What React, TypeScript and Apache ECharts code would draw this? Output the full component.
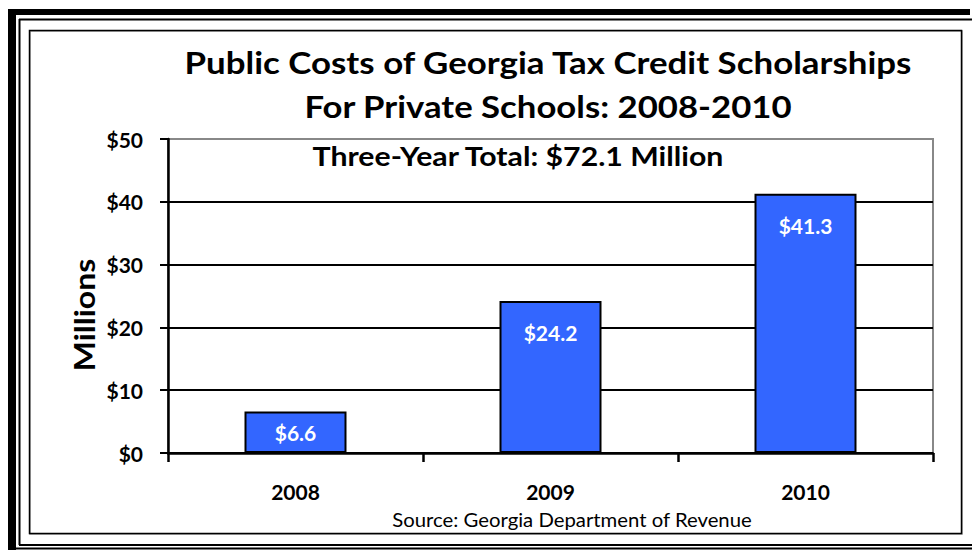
import React, { useEffect, useRef } from "react";
import * as echarts from "echarts";

const categories = ["2008", "2009", "2010"];
const values = [6.6, 24.2, 41.3];
const yTicks = [0, 10, 20, 30, 40, 50];
const titleLines = ["Public Costs of Georgia Tax Credit Scholarships", "For Private Schools: 2008-2010"];
const subtitle = "Three-Year Total: $72.1 Million";
const yAxisName = "Millions";
const sourceText = "Source: Georgia Department of Revenue";

const FONT = "Lato, 'Noto Sans', sans-serif";

export default function App() {
  const ref = useRef<HTMLDivElement>(null);
  useEffect(() => {
    if (!ref.current) return;
    const chart = echarts.init(ref.current, null, { renderer: "svg" });
    chart.setOption({
      animation: false,
      backgroundColor: "#fff",
      textStyle: { fontFamily: FONT },
      grid: {
        left: 168,
        top: 139,
        right: 39,
        bottom: 97,
        show: true,
        borderColor: "#888",
        borderWidth: 2,
        containLabel: false,
      },
      xAxis: {
        type: "category",
        data: categories,
        axisLine: { lineStyle: { color: "#000", width: 2.5 } },
        axisTick: { show: true, length: 9, lineStyle: { color: "#000", width: 2.5 } },
        axisLabel: { color: "#000", fontWeight: "bold", fontSize: 21, fontFamily: FONT, margin: 28 },
      },
      yAxis: {
        type: "value",
        min: yTicks[0],
        max: yTicks[yTicks.length - 1],
        interval: 10,
        axisLine: { show: true, lineStyle: { color: "#000", width: 2.5 } },
        axisTick: { show: true, length: 8, lineStyle: { color: "#000", width: 2 } },
        axisLabel: {
          color: "#000",
          fontWeight: "bold",
          fontSize: 21,
          fontFamily: FONT,
          margin: 25,
          formatter: (v: number) => "$" + v,
        },
        splitLine: {
          show: true,
          lineStyle: { color: ["#000", "#000", "#000", "#000", "#000", "#888"], width: 2 },
        },
      },
      series: [
        {
          type: "bar",
          barWidth: "40%",
          data: values.map((v, i) => ({
            value: v,
            label: i === 0 ? { position: "inside" } : { position: "insideTop", distance: 21 },
          })),
          itemStyle: { color: "#3366FF", borderColor: "#000", borderWidth: 2 },
          label: {
            show: true,
            color: "#fff",
            fontWeight: "bold",
            fontSize: 21,
            fontFamily: FONT,
            textBorderWidth: 0,
            formatter: (p: any) => "$" + p.value.toFixed(1),
          },
          z: 3,
        },
      ],
      graphic: [
        { type: "rect", shape: { x: 8, y: 9, width: 962, height: 6 }, style: { fill: "#000" }, silent: true },
        { type: "rect", shape: { x: 8, y: 9, width: 8, height: 541 }, style: { fill: "#000" }, silent: true },
        { type: "line", shape: { x1: 19, y1: 19.5, x2: 972, y2: 19.5 }, style: { stroke: "#000", lineWidth: 2 }, silent: true },
        { type: "line", shape: { x1: 19.5, y1: 19, x2: 19.5, y2: 545 }, style: { stroke: "#000", lineWidth: 2 }, silent: true },
        { type: "line", shape: { x1: 19, y1: 545, x2: 972, y2: 545 }, style: { stroke: "#000", lineWidth: 2 }, silent: true },
        { type: "line", shape: { x1: 16, y1: 548.5, x2: 972, y2: 548.5 }, style: { stroke: "#000", lineWidth: 2 }, silent: true },
        { type: "rect", shape: { x: 30, y: 31, width: 932, height: 503 }, style: { fill: "none", stroke: "#999", lineWidth: 1.5 }, silent: true },
        { type: "rect", shape: { x: 29.5, y: 30.5, width: 932, height: 503 }, style: { fill: "none", stroke: "#000", lineWidth: 1.5 }, silent: true },
        {
          type: "text",
          x: 548,
          y: 62,
          scaleX: 1.125,
          style: { text: titleLines[0], fill: "#000", font: `bold 31px ${FONT}`, align: "center", verticalAlign: "middle" },
        },
        {
          type: "text",
          x: 548,
          y: 106,
          scaleX: 1.12,
          style: { text: titleLines[1], fill: "#000", font: `bold 31px ${FONT}`, align: "center", verticalAlign: "middle" },
        },
        {
          type: "text",
          x: 518,
          y: 156,
          scaleX: 1.12,
          style: { text: subtitle, fill: "#000", font: `bold 27px ${FONT}`, align: "center", verticalAlign: "middle" },
          z: 10,
        },
        {
          type: "text",
          x: 84,
          y: 315,
          rotation: Math.PI / 2,
          scaleX: 1.14,
          style: { text: yAxisName, fill: "#000", font: `bold 28px ${FONT}`, align: "center", verticalAlign: "middle" },
        },
        {
          type: "text",
          x: 572,
          y: 520,
          scaleX: 1.07,
          style: { text: sourceText, fill: "#000", font: `19px ${FONT}`, align: "center", verticalAlign: "middle" },
        },
      ],
    });
    return () => chart.dispose();
  }, []);
  return <div ref={ref} style={{ position: "fixed", left: 0, top: 0, width: 972, height: 550 }} />;
}
